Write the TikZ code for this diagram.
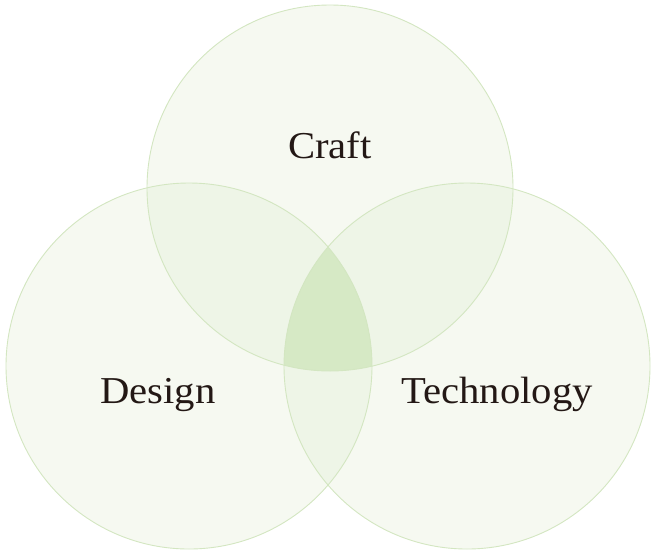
\documentclass[tikz,border=0pt]{standalone}
\usepackage{fontspec}
\setmainfont{Liberation Serif}
\definecolor{onefill}{HTML}{F6F9F1}
\definecolor{twofill}{HTML}{EEF5E7}
\definecolor{threefill}{HTML}{D6E9C5}
\definecolor{edgecol}{HTML}{D3E6C1}
\definecolor{ink}{HTML}{231815}
\begin{document}
\begin{tikzpicture}[x=1pt,y=-1pt,
  lbl/.style={font=\fontsize{38}{44}\selectfont, text=ink, anchor=base, inner sep=0pt, xscale=1.07}]
\useasboundingbox (0,0) rectangle (655,555);
\def\R{183}
\coordinate (cT) at (330,188);
\coordinate (cL) at (189,366);
\coordinate (cR) at (467,366);
% single fills
\fill[onefill] (cT) circle (\R);
\fill[onefill] (cL) circle (\R);
\fill[onefill] (cR) circle (\R);
% pairwise
\begin{scope}\clip (cT) circle (\R); \fill[twofill] (cL) circle (\R); \fill[twofill] (cR) circle (\R);\end{scope}
\begin{scope}\clip (cL) circle (\R); \fill[twofill] (cR) circle (\R);\end{scope}
% triple
\begin{scope}\clip (cT) circle (\R); \clip (cL) circle (\R); \fill[threefill] (cR) circle (\R);\end{scope}
% outlines
\draw[edgecol, line width=0.9pt] (cT) circle (\R);
\draw[edgecol, line width=0.9pt] (cL) circle (\R);
\draw[edgecol, line width=0.9pt] (cR) circle (\R);
\node[lbl] (craft) at (330,158) {Craft};
\node[lbl] (design) at (158,403) {Design};
\node[lbl] (tech) at (497,403) {Technology};
\end{tikzpicture}
\end{document}
